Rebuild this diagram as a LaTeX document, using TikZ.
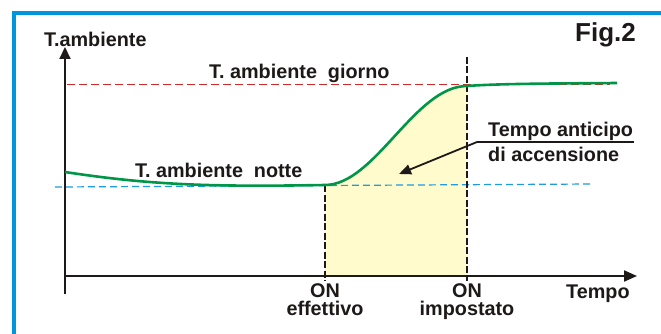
\documentclass[tikz,border=0pt]{standalone}
\usepackage{fontspec}
\setmainfont{Liberation Sans}
\usetikzlibrary{arrows.meta}
\definecolor{framebl}{RGB}{0,150,222}
\definecolor{curvegr}{RGB}{0,150,72}
\definecolor{daybr}{RGB}{208,40,40}
\definecolor{nightbl}{RGB}{30,155,224}
\definecolor{fillye}{RGB}{255,251,204}
\definecolor{ink}{RGB}{30,25,25}
\tikzset{
  lbl/.style={inner sep=0pt, text=ink, font=\bfseries\fontsize{19.8}{18}\selectfont},
  biglbl/.style={inner sep=0pt, text=ink, font=\bfseries\fontsize{26}{26}\selectfont},
  axisline/.style={draw=ink, line width=2pt, -{Triangle[length=12pt,width=11pt]}},
  markline/.style={draw=ink, line width=1.5pt, dash pattern=on 7pt off 2.5pt},
  curveline/.style={draw=curvegr, line width=2.6pt},
  dayline/.style={draw=daybr, line width=1pt, dash pattern=on 8pt off 4pt},
  nightline/.style={draw=nightbl, line width=1.2pt, dash pattern=on 7pt off 4pt},
  pointer/.style={draw=ink, line width=1.8pt, -{Triangle[length=12pt,width=10pt]}},
}
\begin{document}
\begin{tikzpicture}[x=1pt,y=-1pt]
\useasboundingbox (0,0) rectangle (661,334);
\fill[white] (0,0) rectangle (661,334);
% frame
\draw[framebl, line width=3.6pt] (14,334) -- (14,13.2) -- (661,13.2);
% yellow region
\fill[fillye] (325,276) -- (325,185) .. controls (375,185) and (415,86) .. (467,86) -- (467,276) -- cycle;
% reference lines
\draw[dayline] (67,85) -- (610,85);
\draw[nightline] (55,187) -- (593,184);
% vertical markers
\coordinate (effTop) at (325,185);
\coordinate (effBot) at (325,281);
\coordinate (impTop) at (467,57);
\coordinate (impBot) at (467,281);
\draw[markline] (effTop) -- (effBot);
\draw[markline] (impTop) -- (impBot);
% axes
\coordinate (origin) at (65,276);
\coordinate (ybot) at (65,294);
\coordinate (ytip) at (65,47);
\coordinate (xtip) at (637,276);
\draw[axisline] (ybot) -- (ytip);
\draw[draw=ink, line width=2pt, -{Triangle[length=13pt,width=11pt]}] (origin) -- (xtip);
% curve
\draw[curveline] (65,172) .. controls (150,185) and (210,187) .. (325,185)
  .. controls (375,185) and (415,86) .. (467,86)
  .. controls (500,83.5) and (560,83.5) .. (617,83);
% labels
\node[lbl, anchor=base west] (yl) at (44,47) {T.ambiente};
\node[biglbl, anchor=base west] (fig) at (575,42) {Fig.2};
\node[lbl, anchor=base west] (day) at (209,79) {T. ambiente\hspace{0.55em}giorno};
\node[lbl, anchor=base west] (night) at (135,177) {T. ambiente\hspace{0.55em}notte};
\node[lbl, anchor=base west] (ant1) at (488,137) {Tempo anticipo};
\node[lbl, anchor=base west] (ant2) at (488,161) {di accensione};
\node[lbl, anchor=base, align=center] (eff) at (325,315) {ON\\effettivo};
\node[lbl, anchor=base, align=center] (imp) at (467,315) {ON\\impostato};
\node[lbl, anchor=base west] (tempo) at (566,298) {Tempo};
% pointer
\coordinate (ulR) at (634,142);
\coordinate (ulL) at (477,142);
\coordinate (tipA) at (399,174);
\draw[draw=ink, line width=1.8pt] (ulR) -- (ulL);
\draw[pointer] (ulL) -- (tipA);
\end{tikzpicture}
\end{document}
